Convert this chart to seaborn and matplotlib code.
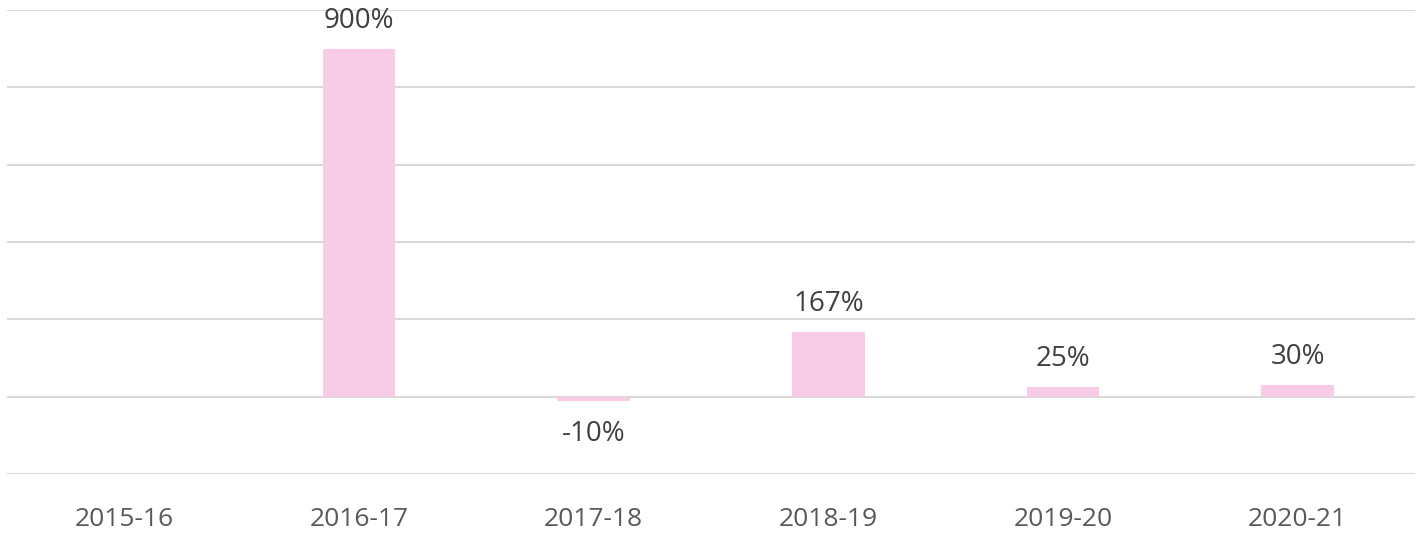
import matplotlib
matplotlib.use("Agg")
import matplotlib.pyplot as plt
import pandas as pd
import numpy as np
import seaborn as sns

### Dados
anos = ["2015-16", "2016-17", "2017-18", "2018-19", "2019-20", "2020-21"]
variacao = [np.nan, 900, -10, 167, 25, 30]  # % (2015-16 sem valor)
rotulos = ["", "900%", "-10%", "167%", "25%", "30%"]

_COR_BARRA = "#F8CBE6"
_COR_TEXTO = "#404040"
_COR_GRADE = "#D9D9D9"

dados = pd.DataFrame({"Ano": anos, "Variacao": variacao})

sns.set_theme(style = "white")
plt.rcParams["font.family"] = ["Open Sans", "DejaVu Sans"]

fig = plt.figure(figsize = (14.21, 5.35), dpi = 100)
ax = fig.add_axes([0.005, 0.114, 0.9908, 0.867])

sns.barplot(data = dados, x = "Ano", y = "Variacao", color = _COR_BARRA,
            saturation = 1, width = 0.31, linewidth = 0, ax = ax, zorder = 3)

ax.set_ylim(-200, 1000)
ax.set_yticks(np.arange(-200, 1001, 200))
ax.yaxis.grid(True, color = _COR_GRADE, linewidth = 1.5)
ax.set_axisbelow(True)
ax.set_yticklabels([])
ax.tick_params(axis = "y", length = 0)
ax.tick_params(axis = "x", length = 0, pad = 24, labelsize = 19, labelcolor = "#595959")
ax.set_xlabel("")
ax.set_ylabel("")
sns.despine(ax = ax, left = True, bottom = True, top = True, right = True)

# rótulos de dados
for i, (v, txt) in enumerate(zip(variacao, rotulos)):
    if np.isnan(v):
        continue
    desloc = 20 if v >= 0 else -24
    ax.annotate(txt, (i, v), xytext = (0, desloc), textcoords = "offset points",
                ha = "center", va = "center", fontsize = 20, color = _COR_TEXTO)

fig.savefig("out.png", dpi = 100)
